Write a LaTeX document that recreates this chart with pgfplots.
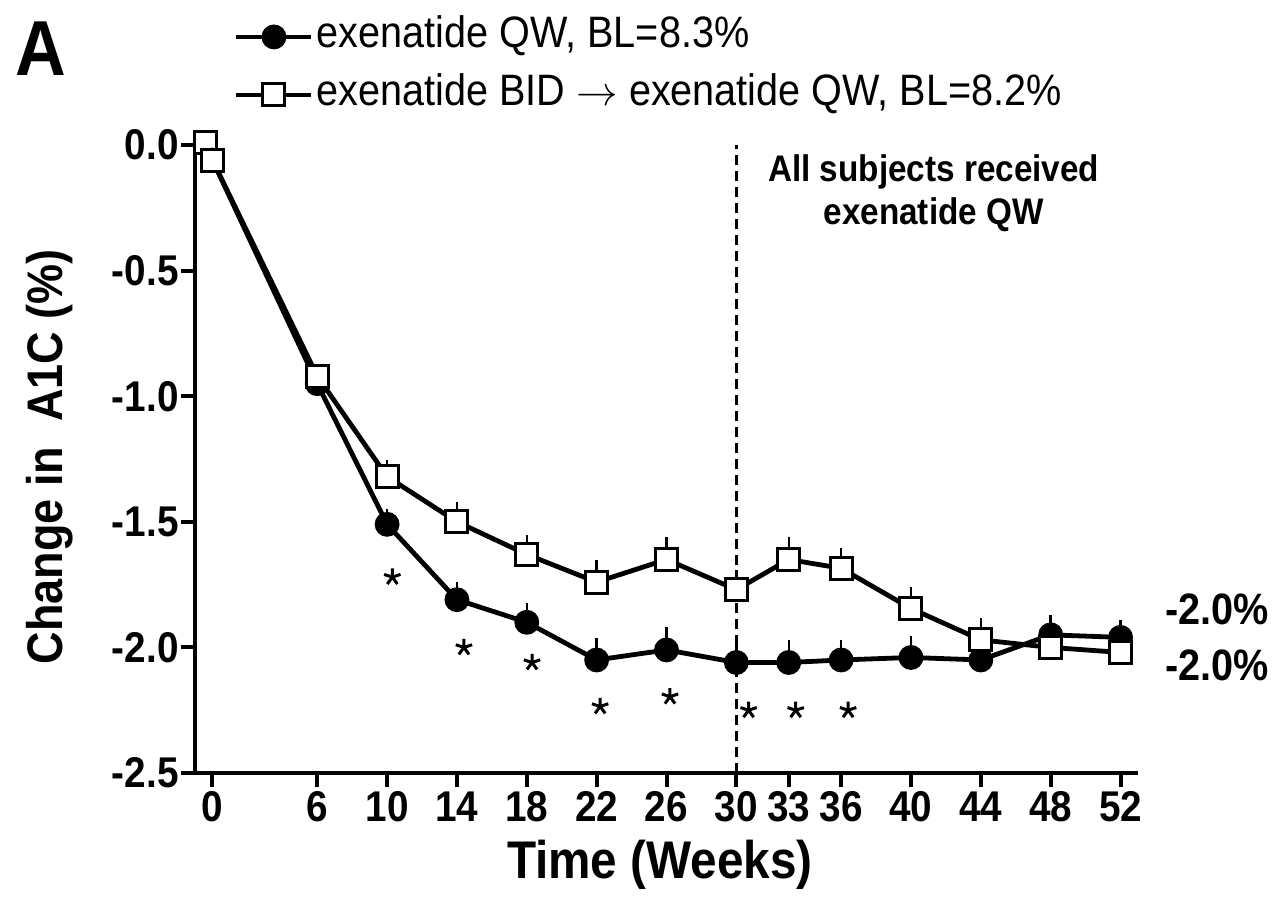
\documentclass[border=0pt]{standalone}
\usepackage{fontspec}
\setmainfont{Liberation Sans}[FakeStretch=0.9]
\usepackage{pgfplots}
\pgfplotsset{compat=1.18}

% 1 px of the reference = 0.5pt
\begin{document}
\begin{tikzpicture}
\begin{axis}[
  at={(0,0)}, anchor=south west,
  scale only axis,
  width=471.5pt, height=316.5pt,
  xmin=-1, xmax=53,
  ymin=-2.5, ymax=0.02,
  clip=false,
  axis x line*=bottom, axis y line*=left,
  axis line style={line width=2pt, -},
  tick align=outside,
  major tick length=7pt,
  tick style={line width=2pt, black},
  xtick={0,6,10,14,18,22,26,30,33,36,40,44,48,52},
  ytick={0,-0.5,-1,-1.5,-2,-2.5},
  /pgf/number format/assume math mode=true,
  yticklabel style={/pgf/number format/fixed, /pgf/number format/fixed zerofill,
    /pgf/number format/precision=1, inner sep=1pt},
  ticklabel style={font=\fontsize{21.5}{21.5}\selectfont\bfseries},
  xticklabel style={inner sep=2pt},
  xlabel={Time (Weeks)},
  ylabel={Change in~ A1C (\%)},
  every axis x label/.style={at={(axis description cs:0.493,-0.145)}, anchor=center,
    font=\fontsize{26.5}{26.5}\selectfont\bfseries},
  every axis y label/.style={at={(axis description cs:-0.154,0.5)}, anchor=center, rotate=90,
    font=\fontsize{25}{25}\selectfont\bfseries},
  legend image code/.code={\draw[mark repeat=2,mark phase=2,#1]
    plot coordinates {(0pt,0pt) (18.75pt,0pt) (37.5pt,0pt)};},
  legend style={at={(axis description cs:0.041,1.117)}, anchor=west,
    draw=none, fill=none, inner sep=0pt,
    font=\fontsize{22}{22}\selectfont,
    nodes={inner sep=1.5pt, text height=15pt, text depth=4pt},
    row sep=7pt},
  legend cell align=left,
]
% extra square at the start
\addplot[forget plot, only marks, mark=square*, mark size=5.5pt,
  mark options={fill=white, draw=black, line width=1.5pt}]
  coordinates {(-0.4,0.01)};

% exenatide QW
\addplot[black, line width=2.4pt, mark=*, mark size=5pt,
  mark options={solid, fill=black},
  error bars/.cd, y dir=plus, y explicit, error mark=none,
  error bar style={line width=1.2pt, black}]
  coordinates {
  (0,-0.06) +- (0,0.02)
  (6,-0.95) +- (0,0.06)
  (10,-1.51) +- (0,0.06)
  (14,-1.81) +- (0,0.07)
  (18,-1.90) +- (0,0.077)
  (22,-2.05) +- (0,0.088)
  (26,-2.01) +- (0,0.093)
  (30,-2.06) +- (0,0.08)
  (33,-2.06) +- (0,0.09)
  (36,-2.05) +- (0,0.08)
  (40,-2.04) +- (0,0.086)
  (44,-2.05) +- (0,0.08)
  (48,-1.95) +- (0,0.08)
  (52,-1.96) +- (0,0.07)
  };
\addlegendentry{exenatide QW, BL=8.3\%}

% exenatide BID -> exenatide QW
\addplot[black, line width=2.4pt, mark=square*, mark size=5.5pt,
  mark options={solid, fill=white, draw=black, line width=1.5pt},
  error bars/.cd, y dir=plus, y explicit, error mark=none,
  error bar style={line width=1.2pt, black}]
  coordinates {
  (0,-0.06) +- (0,0.02)
  (6,-0.92) +- (0,0.05)
  (10,-1.32) +- (0,0.066)
  (14,-1.50) +- (0,0.08)
  (18,-1.63) +- (0,0.076)
  (22,-1.74) +- (0,0.09)
  (26,-1.65) +- (0,0.09)
  (30,-1.77) +- (0,0.08)
  (33,-1.65) +- (0,0.09)
  (36,-1.685) +- (0,0.08)
  (40,-1.845) +- (0,0.086)
  (44,-1.97) +- (0,0.086)
  (48,-2.00) +- (0,0.08)
  (52,-2.02) +- (0,0.08)
  };
\addlegendentry{exenatide BID $\rightarrow$ exenatide QW, BL=8.2\%}

% week 30 switch
\addplot[forget plot, black, line width=1.5pt, dash pattern=on 5pt off 3pt]
  coordinates {(30,-2.5) (30,0.0)};

% significance asterisks
\addplot[forget plot, only marks, mark=star, mark size=4.3pt, line width=1.5pt, black]
  coordinates {(10.3,-1.72) (14.4,-2.00) (18.3,-2.06) (22.2,-2.235) (26.2,-2.196)
               (30.7,-2.25) (33.4,-2.25) (36.4,-2.25)};

\node[align=center, font=\fontsize{18.5}{21.5}\selectfont\bfseries]
  at (axis cs:41.3,-0.19) {All subjects received\\exenatide QW};
\node[anchor=west, inner sep=0pt, font=\fontsize{22}{22}\selectfont\bfseries]
  at (axis cs:54.55,-1.85) {-2.0\%};
\node[anchor=west, inner sep=0pt, font=\fontsize{22}{22}\selectfont\bfseries]
  at (axis cs:54.55,-2.07) {-2.0\%};
\end{axis}
\node[anchor=base west, inner sep=0pt, font=\fontsize{39}{39}\selectfont\bfseries]
  at (-90pt,349pt) {A};
\pgfresetboundingbox
\path (-97.5pt,-64.5pt) rectangle (538.5pt,386.5pt);
\end{tikzpicture}
\end{document}
